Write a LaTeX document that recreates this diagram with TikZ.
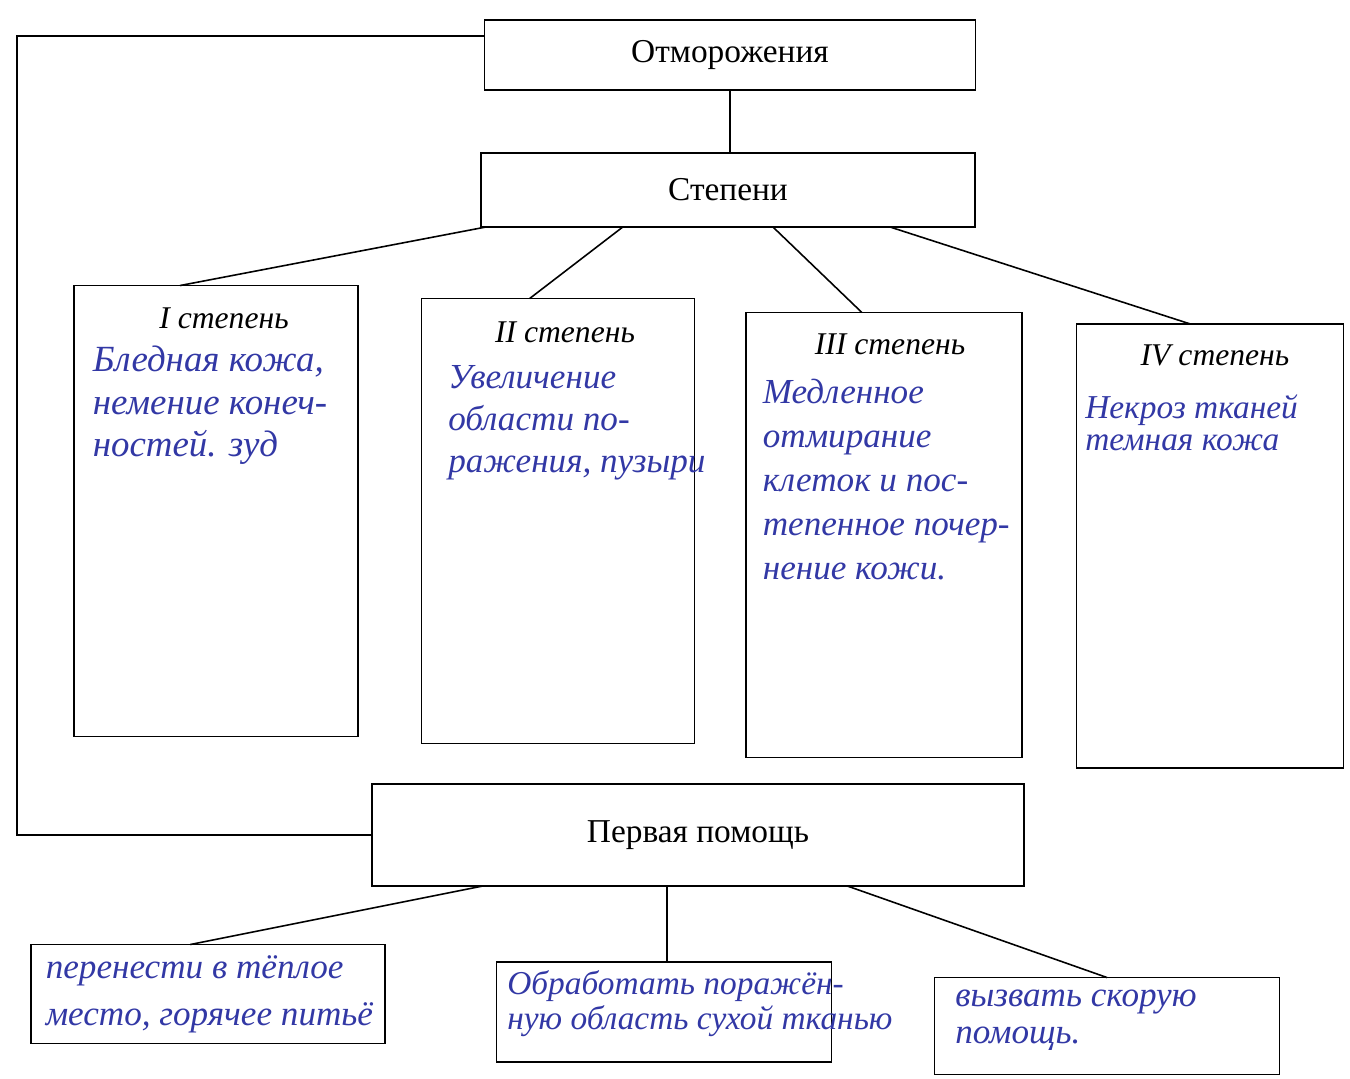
\documentclass[tikz,border=0pt]{standalone}
\usepackage{fontspec}
\setmainfont{Liberation Serif}
\usetikzlibrary{calc,positioning}
\definecolor{ink}{RGB}{50,56,165}

\begin{document}
\begin{tikzpicture}[x=0.02cm,y=-0.02cm,line width=0.9pt]
\tikzstyle{box}=[draw,inner sep=0pt,outer sep=0pt];
\tikzstyle{title}=[font=\fontsize{19}{21}\selectfont];
\tikzstyle{deg}=[font=\fontsize{18}{20}\selectfont\itshape];
\tikzstyle{note}=[font=\fontsize{21}{24}\selectfont\itshape,text=ink,align=left,anchor=north west,inner sep=0pt];

\useasboundingbox (0,0) rectangle (1350,1079);

% top of the scheme
\node[box,title,minimum width=9.82cm,minimum height=1.4cm] (otm) at (730,55) {Отморожения};
\node[box,title,minimum width=9.88cm,minimum height=1.48cm] (step) at (728,190) {Степени};
\draw (otm.south) -- (otm.south |- step.north);

% degrees
\node[box,minimum width=5.68cm,minimum height=9.02cm] (d1) at (216,511) {};
\node[box,minimum width=5.46cm,minimum height=8.9cm] (d2) at (558,521) {};
\node[box,minimum width=5.52cm,minimum height=8.9cm] (d3) at (884,535) {};
\node[box,minimum width=5.34cm,minimum height=8.88cm] (d4) at (1210,546) {};

\node[deg] (h1) at ($(d1.north)+(8,33)$) {I степень};
\node[deg] (h2) at ($(d2.north)+(7,34)$) {II степень};
\node[deg] (h3) at ($(d3.north)+(6,32)$) {III степень};
\node[deg] (h4) at ($(d4.north)+(5,31)$) {IV степень};

\node[note] (n1) at ($(d1.north west)+(18,60)$) {Бледная кожа,\\немение конеч-\\ностей. зуд};
\node[note,font=\fontsize{20}{24}\selectfont\itshape] (n2) at ($(d2.north west)+(26,66)$) {Увеличение\\области по-\\ражения, пузыри};
\node[note,font=\fontsize{20}{25}\selectfont\itshape] (n3) at ($(d3.north west)+(16,66)$) {Медленное\\отмирание\\клеток и пос-\\тепенное почер-\\нение кожи.};
\node[note,font=\fontsize{19}{18}\selectfont\itshape] (n4) at ($(d4.north west)+(8,70)$) {Некроз тканей\\темная кожа};

\draw ($(step.south west)!.01!(step.south east)$) -- ($(d1.north west)!.373!(d1.north east)$);
\draw ($(step.south west)!.287!(step.south east)$) -- ($(d2.north west)!.396!(d2.north east)$);
\draw ($(step.south west)!.591!(step.south east)$) -- ($(d3.north west)!.42!(d3.north east)$);
\draw ($(step.south west)!.828!(step.south east)$) -- ($(d4.north west)!.427!(d4.north east)$);

% first aid
\node[box,title,minimum width=13.04cm,minimum height=2.04cm] (help) at (698,835) {Первая помощь};
\coordinate (bus) at (17,0);
\coordinate (otmL) at ($(otm.north west)!.23!(otm.south west)$);
\draw (otmL) -- (otmL -| bus) -- (bus |- help.west) -- (help.west);

\node[box,minimum width=7.08cm,minimum height=1.98cm] (b1) at (208,994) {};
\node[box,minimum width=6.7cm,minimum height=2cm] (b2) at (664,1012) {};
\node[box,minimum width=6.9cm,minimum height=1.94cm] (b3) at (1107,1026) {};

\node[note,font=\fontsize{20}{27}\selectfont\itshape] (m1) at ($(b1.north west)+(14,10)$) {перенести в тёплое\\место, горячее питьё};
\node[note,font=\fontsize{19}{20}\selectfont\itshape] (m2) at ($(b2.north west)+(10,8)$) {Обработать поражён-\\ную область сухой тканью};
\node[note,font=\fontsize{20}{21}\selectfont\itshape] (m3) at ($(b3.north west)+(20,12)$) {вызвать скорую\\помощь.};

\coordinate (hb) at ($(help.south west)!.452!(help.south east)$);
\draw ($(help.south west)!.17!(help.south east)$) -- ($(b1.north west)!.45!(b1.north east)$);
\draw (hb) -- (hb |- b2.north);
\draw ($(help.south west)!.729!(help.south east)$) -- (b3.north);
\end{tikzpicture}
\end{document}
